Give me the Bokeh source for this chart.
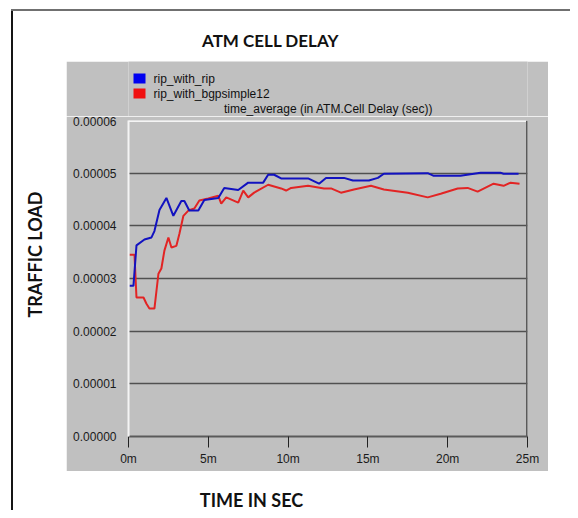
import math
from bokeh.plotting import figure
from bokeh.models import (Span, FixedTicker, PrintfTickFormatter, Range1d, Label,
                          BoxAnnotation, Div, Spacer)
from bokeh.layouts import row, column
from bokeh.embed import file_html
from bokeh.resources import INLINE

# ---- data (time in minutes, delay in units of 1e-5 sec) ----
blue_t = [0.06, 0.31, 0.5, 1.0, 1.44, 1.625, 1.94, 2.375, 2.81, 3.31, 3.5, 3.81, 4.375,
          4.75, 5.625, 6.0, 6.875, 7.5, 8.44, 8.75, 9.125, 9.56, 11.25, 11.94, 12.375,
          13.5, 14.06, 15.06, 15.625, 16.0, 18.75, 19.125, 20.8, 22.06, 23.3, 23.5, 24.44]
blue_v = [2.86, 2.86, 3.63, 3.74, 3.78, 3.9, 4.3, 4.53, 4.19, 4.47, 4.47, 4.29, 4.29,
          4.49, 4.53, 4.72, 4.68, 4.82, 4.82, 4.97, 4.97, 4.9, 4.9, 4.8, 4.91,
          4.91, 4.86, 4.86, 4.91, 4.99, 5.0, 4.95, 4.95, 5.01, 5.01, 4.99, 4.99]
red_t = [0.06, 0.375, 0.5, 0.94, 1.125, 1.31, 1.625, 1.875, 2.06, 2.25, 2.5, 2.69, 3.0,
         3.19, 3.44, 3.75, 4.125, 4.44, 5.0, 5.625, 5.81, 6.125, 6.875, 7.19, 7.5, 7.875,
         8.75, 9.56, 9.875, 10.19, 11.25, 12.25, 12.69, 13.31, 14.125, 15.19, 16.0, 17.5,
         18.75, 19.56, 20.625, 21.25, 21.875, 22.875, 23.5, 23.94, 24.5]
red_v = [3.45, 3.45, 2.64, 2.64, 2.52, 2.43, 2.43, 3.09, 3.19, 3.53, 3.78, 3.59, 3.62,
         3.85, 4.19, 4.29, 4.33, 4.48, 4.52, 4.57, 4.42, 4.54, 4.44, 4.67, 4.54, 4.63,
         4.78, 4.71, 4.67, 4.72, 4.76, 4.71, 4.71, 4.63, 4.69, 4.76, 4.69, 4.63,
         4.54, 4.61, 4.71, 4.72, 4.65, 4.8, 4.76, 4.82, 4.8]
series_names = ["rip_with_rip", "rip_with_bgpsimple12"]
series_colors = ["#1212c0", "#e22424"]
swatch_colors = ["#0000f0", "#f01010"]
x_ticks = [0, 5, 10, 15, 20, 25]
x_tick_labels = ["0m", "5m", "10m", "15m", "20m", "25m"]
y_ticks = [0, 1e-5, 2e-5, 3e-5, 4e-5, 5e-5, 6e-5]

blue_y = [v * 1e-5 for v in blue_v]
red_y = [v * 1e-5 for v in red_v]

GRAY = "#c0c0c0"
TITLE_FONT = "Lato"
TEXT_FONT = "Liberation Sans"
BORDER_L, BORDER_R = 62, 21   # gray margins left / right of the plot area


def sheet(width, height, fill, left=0, right=0):
    f = figure(width=width, height=height, output_backend="svg", toolbar_location=None,
               title=None, x_range=Range1d(0, 1), y_range=Range1d(0, 1),
               min_border_left=left, min_border_right=right,
               min_border_top=0, min_border_bottom=0)
    f.axis.visible = False
    f.grid.visible = False
    f.outline_line_color = None
    f.background_fill_color = fill
    f.border_fill_color = fill
    return f


def label(fig, x, y, text, font, size, bold=False, align="center", baseline="middle", angle=0):
    fig.add_layout(Label(x=x, y=y, x_units="screen", y_units="screen", text=text,
                         text_font=font, text_font_size=size,
                         text_font_style="bold" if bold else "normal",
                         text_align=align, text_baseline=baseline, angle=angle,
                         text_color="#111111"))


# ---- main chart (lower part of the gray panel) ----
p = figure(width=482, height=355, output_backend="svg", toolbar_location=None, title=None,
           x_range=Range1d(0, 25), y_range=Range1d(0, 6e-5),
           min_border_left=BORDER_L, min_border_right=BORDER_R,
           min_border_top=4, min_border_bottom=35)
p.background_fill_color = GRAY
p.border_fill_color = GRAY
p.outline_line_color = None

p.xaxis.ticker = FixedTicker(ticks=x_ticks)
p.xaxis.major_label_overrides = {t: l for t, l in zip(x_ticks, x_tick_labels)}
p.xaxis.axis_line_color = "#5a5a5a"
p.xaxis.axis_line_width = 2
p.xaxis.major_tick_line_color = "#222222"
p.xaxis.major_tick_out = 11
p.xaxis.major_tick_in = 0
p.xaxis.minor_tick_line_color = None
p.xaxis.major_label_standoff = 4

p.yaxis.ticker = FixedTicker(ticks=y_ticks)
p.yaxis.formatter = PrintfTickFormatter(format="%.5f")
p.yaxis.axis_line_color = "#f4f4f4"
p.yaxis.axis_line_width = 2
p.yaxis.major_tick_line_color = None
p.yaxis.minor_tick_line_color = None
p.yaxis.major_label_standoff = 6

for ax in (p.xaxis, p.yaxis):
    ax.major_label_text_font = TEXT_FONT
    ax.major_label_text_font_size = "12px"
    ax.major_label_text_color = "#1a1a1a"

p.xgrid.grid_line_color = None
p.ygrid.ticker = FixedTicker(ticks=[1e-5, 2e-5, 3e-5, 4e-5, 5e-5])
p.ygrid.grid_line_color = "#505050"
p.ygrid.grid_line_width = 1.5

p.add_layout(Span(location=6e-5, dimension="width", line_color="#f4f4f4", line_width=3))
p.add_layout(Span(location=25, dimension="height", line_color="#5a5a5a", line_width=3))

p.line(red_t, red_y, line_color=series_colors[1], line_width=2)
p.line(blue_t, blue_y, line_color=series_colors[0], line_width=2)

# ---- legend strip (upper part of the gray panel); x measured from plot-area left ----
leg = sheet(482, 55, GRAY, left=BORDER_L, right=BORDER_R)
for i, (name, col) in enumerate(zip(series_names, swatch_colors)):
    top = 43 - 15 * i
    leg.add_layout(BoxAnnotation(left=5, right=17, top=top, bottom=top - 10,
                                 left_units="screen", right_units="screen",
                                 top_units="screen", bottom_units="screen",
                                 fill_color=col, fill_alpha=1, line_color=None))
    label(leg, 25, top - 5, name, TEXT_FONT, "12px", align="left")
label(leg, 200, 7.5, "time_average (in ATM.Cell Delay (sec))", TEXT_FONT, "12px")

panel = column(leg, p)

# ---- white sheet with titles ----
top_sheet = sheet(557, 50, "white")
label(top_sheet, 257, 21, "ATM CELL DELAY", TITLE_FONT, "17px", bold=True)

left_sheet = sheet(53, 410, "white")
label(left_sheet, 21, 217, "TRAFFIC LOAD", TITLE_FONT, "18px", bold=True, angle=math.pi / 2)

bottom_sheet = sheet(557, 39, "white")
label(bottom_sheet, 238, 11, "TIME IN SEC", TITLE_FONT, "18px", bold=True)

middle = row(left_sheet, panel, Spacer(width=22, height=410, margin=0))
inner = column(top_sheet, middle, bottom_sheet)

root = column(
    Spacer(width=570, height=9, margin=0),
    row(Spacer(width=11, height=2, margin=0),
        Div(text="", width=559, height=2, margin=0, styles={"background-color": "#707070"})),
    row(Spacer(width=11, height=499, margin=0),
        Div(text="", width=2, height=499, margin=0, styles={"background-color": "#151515"}),
        inner),
)

open("out.html", "w").write(file_html(root, INLINE))
